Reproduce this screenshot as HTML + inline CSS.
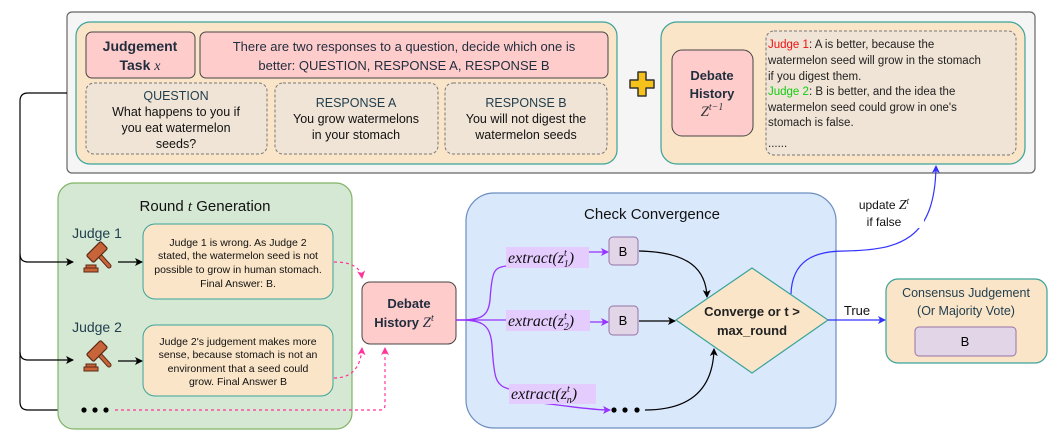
<!DOCTYPE html>
<html><head><meta charset="utf-8"><style>
html,body{margin:0;padding:0;background:#fff;}
svg{display:block;font-family:"Liberation Sans",sans-serif;}
</style></head><body>
<svg width="1053" height="438" viewBox="0 0 1053 438" xmlns="http://www.w3.org/2000/svg">
<defs>
<marker id="ak" markerWidth="8" markerHeight="8" refX="7" refY="4" orient="auto" markerUnits="userSpaceOnUse"><path d="M0,0 L8,4 L0,8 L2,4 z" fill="#000"/></marker>
<marker id="ap" markerWidth="8" markerHeight="8" refX="7" refY="4" orient="auto" markerUnits="userSpaceOnUse"><path d="M0,0 L8,4 L0,8 L2,4 z" fill="#ff3399"/></marker>
<marker id="av" markerWidth="8" markerHeight="8" refX="7" refY="4" orient="auto" markerUnits="userSpaceOnUse"><path d="M0,0 L8,4 L0,8 L2,4 z" fill="#9933ff"/></marker>
<marker id="ab" markerWidth="8" markerHeight="8" refX="7" refY="4" orient="auto" markerUnits="userSpaceOnUse"><path d="M0,0 L8,4 L0,8 L2,4 z" fill="#3333ff"/></marker>
<g id="gavel">
<line x1="2" y1="-3" x2="12" y2="8" stroke="#5a2a14" stroke-width="5" stroke-linecap="round"/>
<line x1="2" y1="-3" x2="12" y2="8" stroke="#c8643a" stroke-width="3" stroke-linecap="round"/>
<g transform="rotate(-45 0 -6)">
<rect x="-10" y="-11" width="20" height="10" rx="1.5" fill="#c8643a" stroke="#5a2a14" stroke-width="1.2"/>
</g>
<rect x="-13" y="10" width="14" height="4" fill="#c8643a" stroke="#5a2a14" stroke-width="1"/>
<rect x="-11" y="7" width="10" height="3" fill="#c8643a" stroke="#5a2a14" stroke-width="1"/>
</g>
</defs>

<rect x="67" y="12" width="968" height="161" rx="5" fill="#f5f5f5" stroke="#666" stroke-width="1.2"/>
<rect x="76" y="22" width="541" height="142" rx="14" fill="#fae5c8" stroke="#3aa39a" stroke-width="1.2"/>
<rect x="86" y="32" width="109" height="46" rx="6" fill="#ffcccc" stroke="#444" stroke-width="1"/>
<text x="140" y="51" text-anchor="middle" font-size="14" font-weight="bold" fill="#1f2d3d">Judgement</text>
<text x="140" y="70" text-anchor="middle" font-size="14" font-weight="bold" fill="#1f2d3d">Task <tspan font-family="Liberation Serif" font-style="italic" font-weight="normal">x</tspan></text>
<rect x="200" y="32" width="408" height="46" rx="6" fill="#ffcccc" stroke="#444" stroke-width="1"/>
<text x="404" y="51" text-anchor="middle" font-size="13" fill="#1f2d3d">There are two responses to a question, decide which one is</text>
<text x="404" y="70" text-anchor="middle" font-size="13" fill="#1f2d3d">better: QUESTION, RESPONSE A, RESPONSE B</text>
<g fill="#f0e4d6" stroke="#777" stroke-width="1" stroke-dasharray="3,2">
<rect x="86" y="83" width="181" height="71" rx="8"/>
<rect x="275" y="83" width="163" height="71" rx="8"/>
<rect x="445" y="83" width="162" height="71" rx="8"/>
</g>
<g font-size="12.5" text-anchor="middle" fill="#111">
<text x="176" y="100" fill="#1f3d4d">QUESTION</text>
<text x="176" y="116">What happens to you if</text>
<text x="176" y="132">you eat watermelon</text>
<text x="176" y="148">seeds?</text>
<text x="356" y="107" fill="#1f3d4d">RESPONSE A</text>
<text x="356" y="123">You grow watermelons</text>
<text x="356" y="139">in your stomach</text>
<text x="526" y="107" fill="#1f3d4d">RESPONSE B</text>
<text x="526" y="123">You will not digest the</text>
<text x="526" y="139">watermelon seeds</text>
</g>
<path d="M638,72 h8 v8 h8 v8 h-8 v8 h-8 v-8 h-8 v-8 h8 z" fill="#f5c21b" stroke="#333" stroke-width="1.5" stroke-linejoin="round"/>
<rect x="661" y="22" width="364" height="142" rx="16" fill="#fae5c8" stroke="#3aa39a" stroke-width="1.2"/>
<rect x="672" y="50" width="81" height="86" rx="10" fill="#ffcccc" stroke="#444" stroke-width="1"/>
<text x="712" y="80" text-anchor="middle" font-size="13" font-weight="bold" fill="#1f2d3d">Debate</text>
<text x="712" y="98" text-anchor="middle" font-size="13" font-weight="bold" fill="#1f2d3d">History</text>
<text x="712" y="116" text-anchor="middle" font-size="15" font-family="Liberation Serif" font-style="italic" fill="#333">Z<tspan font-size="10" dy="-6">t−1</tspan></text>
<rect x="766" y="31" width="250" height="124" rx="8" fill="#f0e4d6" stroke="#777" stroke-width="1" stroke-dasharray="3,2"/>
<g font-size="11.5" fill="#222">
<text x="768" y="48"><tspan fill="#ee1111">Judge 1</tspan>: A is better, because the</text>
<text x="768" y="64">watermelon seed will grow in the stomach</text>
<text x="768" y="80">if you digest them.</text>
<text x="768" y="95"><tspan fill="#11cc11">Judge 2</tspan>: B is better, and the idea the</text>
<text x="768" y="111">watermelon seed could grow in one's</text>
<text x="768" y="126">stomach is false.</text>
<text x="768" y="147">......</text>
</g>

<path d="M67,93 H28 Q20,93 20,101 V402 Q20,410 28,410 H73" fill="none" stroke="#000" stroke-width="1.2" marker-end="url(#ak)"/>

<rect x="58" y="183" width="294" height="246" rx="16" fill="#d5e8d4" stroke="#82b366" stroke-width="1.2"/>
<path d="M20,254 Q20,262 28,262 H73" fill="none" stroke="#000" stroke-width="1.2" marker-end="url(#ak)"/>
<path d="M20,352 Q20,360 28,360 H73" fill="none" stroke="#000" stroke-width="1.2" marker-end="url(#ak)"/>
<text x="205" y="211" text-anchor="middle" font-size="15" fill="#111">Round <tspan font-family="Liberation Serif" font-style="italic">t</tspan> Generation</text>
<text x="97" y="238" text-anchor="middle" font-size="14" fill="#1f3d4d">Judge 1</text>
<text x="97" y="332" text-anchor="middle" font-size="14" fill="#1f3d4d">Judge 2</text>
<use href="#gavel" x="97" y="258"/>
<use href="#gavel" x="97" y="357"/>
<line x1="118" y1="262" x2="142" y2="262" stroke="#000" stroke-width="1.2" marker-end="url(#ak)"/>
<line x1="118" y1="361" x2="142" y2="361" stroke="#000" stroke-width="1.2" marker-end="url(#ak)"/>
<rect x="143" y="224" width="190" height="75" rx="12" fill="#fae5c8" stroke="#3aa39a" stroke-width="1"/>
<rect x="143" y="325" width="190" height="71" rx="12" fill="#fae5c8" stroke="#3aa39a" stroke-width="1"/>
<g font-size="10.5" text-anchor="middle" fill="#111">
<text x="238" y="246">Judge 1 is wrong. As Judge 2</text>
<text x="238" y="259">stated, the watermelon seed is not</text>
<text x="238" y="273">possible to grow in human stomach.</text>
<text x="238" y="287">Final Answer: B.</text>
<text x="238" y="345">Judge 2's judgement makes more</text>
<text x="238" y="358">sense, because stomach is not an</text>
<text x="238" y="372">environment that a seed could</text>
<text x="238" y="385">grow. Final Answer B</text>
</g>
<g fill="#000"><circle cx="84" cy="410" r="2.6"/><circle cx="95" cy="410" r="2.6"/><circle cx="106" cy="410" r="2.6"/></g>
<g fill="none" stroke="#ff3399" stroke-width="1.2" stroke-dasharray="3,3">
<path d="M334,262 Q360,262 362,278" marker-end="url(#ap)"/>
<path d="M334,378 Q360,378 362,348" marker-end="url(#ap)"/>
<path d="M115,410 H380 Q385,410 385,405 V348" marker-end="url(#ap)"/>
</g>
<rect x="362" y="282" width="94" height="62" rx="8" fill="#ffcccc" stroke="#444" stroke-width="1"/>
<text x="409" y="308" text-anchor="middle" font-size="13" font-weight="bold" fill="#1f2d3d">Debate</text>
<text x="404" y="327" text-anchor="middle" font-size="13" font-weight="bold" fill="#1f2d3d">History <tspan font-family="Liberation Serif" font-style="italic" font-weight="normal" font-size="15">Z<tspan font-size="10" dy="-6">t</tspan></tspan></text>

<rect x="466" y="193" width="370" height="235" rx="28" fill="#dae8fc" stroke="#6c8ebf" stroke-width="1.2"/>
<text x="652" y="219" text-anchor="middle" font-size="15" fill="#111">Check Convergence</text>
<g fill="none" stroke="#9933ff" stroke-width="1.3">
<path d="M456,320 C480,320 488,318 490,300 C492,270 494,268 506,266"/>
<path d="M456,320 H506"/>
<path d="M456,320 C480,320 490,322 492,345 C494,380 496,385 509,389"/>
<path d="M589,252 H608" marker-end="url(#av)"/>
<path d="M590,322 H608" marker-end="url(#av)"/>
<path d="M540,403 C570,406 590,410 610,410" marker-end="url(#av)"/>
</g>
<g fill="#e5ccff">
<rect x="506" y="247" width="83" height="21"/>
<rect x="506" y="310" width="84" height="21"/>
<rect x="509" y="384" width="87" height="20"/>
</g>
<g font-family="Liberation Serif" font-style="italic" font-size="16" fill="#111">
<text x="508" y="263">extract(z<tspan font-size="10" dy="-7">t</tspan><tspan font-size="10" dx="-3" dy="11">1</tspan><tspan dy="-4">)</tspan></text>
<text x="508" y="326">extract(z<tspan font-size="10" dy="-7">t</tspan><tspan font-size="10" dx="-3" dy="11">2</tspan><tspan dy="-4">)</tspan></text>
<text x="511" y="399">extract(z<tspan font-size="10" dy="-7">t</tspan><tspan font-size="10" dx="-3" dy="11">n</tspan><tspan dy="-4">)</tspan></text>
</g>
<rect x="609" y="237" width="29" height="28" rx="4" fill="#e1d5e7" stroke="#9673a6" stroke-width="1"/>
<rect x="609" y="306" width="29" height="29" rx="4" fill="#e1d5e7" stroke="#9673a6" stroke-width="1"/>
<text x="623" y="256" text-anchor="middle" font-size="13">B</text>
<text x="623" y="325" text-anchor="middle" font-size="13">B</text>
<g fill="#000"><circle cx="614" cy="410" r="2.6"/><circle cx="625" cy="410" r="2.6"/><circle cx="637" cy="410" r="2.6"/></g>
<g fill="none" stroke="#000" stroke-width="1.2">
<path d="M639,251 C690,252 706,270 707,297" marker-end="url(#ak)"/>
<path d="M639,321 H675" marker-end="url(#ak)"/>
<path d="M645,410 C690,410 713,390 714,349" marker-end="url(#ak)"/>
</g>
<path d="M752,268 L828,320 L752,373 L676,320 z" fill="#fae5c8" stroke="#3aa39a" stroke-width="1.2"/>
<text x="752" y="316" text-anchor="middle" font-size="13" font-weight="bold" fill="#222">Converge or t &gt;</text>
<text x="752" y="335" text-anchor="middle" font-size="13" font-weight="bold" fill="#222">max_round</text>
<line x1="828" y1="320" x2="885" y2="320" stroke="#3333ff" stroke-width="1.2" marker-end="url(#ab)"/>
<text x="857" y="315" text-anchor="middle" font-size="13" fill="#111">True</text>
<path d="M791,294 C792,260 815,251 845,251 C900,250 935,240 936,166" fill="none" stroke="#3333ff" stroke-width="1.2" marker-end="url(#ab)"/>
<rect x="848" y="194" width="76" height="34" fill="#fff"/>
<text x="884" y="209" text-anchor="middle" font-size="12" fill="#111">update <tspan font-family="Liberation Serif" font-style="italic" font-size="14">Z<tspan font-size="9" dy="-5">t</tspan></tspan></text>
<text x="884" y="226" text-anchor="middle" font-size="12" fill="#111">if false</text>
<rect x="886" y="279" width="161" height="84" rx="12" fill="#fae5c8" stroke="#3aa39a" stroke-width="1.2"/>
<text x="966" y="297" text-anchor="middle" font-size="12.5" fill="#1f3d4d">Consensus Judgement</text>
<text x="966" y="315" text-anchor="middle" font-size="12.5" fill="#1f3d4d">(Or Majority Vote)</text>
<rect x="915" y="327" width="101" height="29" rx="4" fill="#e1d5e7" stroke="#9673a6" stroke-width="1"/>
<text x="965" y="346" text-anchor="middle" font-size="13">B</text>
</svg>
</body></html>
